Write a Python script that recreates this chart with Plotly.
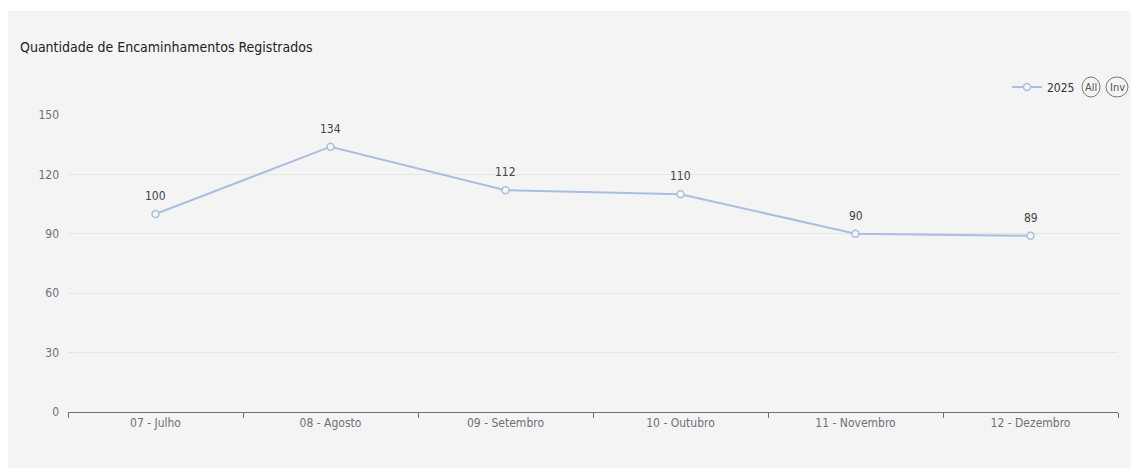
import plotly.graph_objects as go

categories = ["07 - Julho", "08 - Agosto", "09 - Setembro", "10 - Outubro", "11 - Novembro", "12 - Dezembro"]
values_2025 = [100, 134, 112, 110, 90, 89]
y_ticks = [0, 30, 60, 90, 120, 150]
series_name = "2025"
title_text = "Quantidade de Encaminhamentos Registrados"

FONT = "Liberation Sans Narrow, DejaVu Sans Condensed, Roboto, sans-serif"
LINE_COLOR = "#aabde2"
AXIS_COLOR = "#6e7079"

W, H = 1131, 468
L, R, T, B = 68, 13, 115, 56
pw = W - L - R
ph = H - T - B

def px_x(x):
    return (x - L) / pw

def px_y(y):
    return (H - B - y) / ph

fig = go.Figure()
fig.add_trace(go.Scatter(
    x=categories, y=values_2025, name=series_name,
    mode="lines+markers",
    line=dict(color=LINE_COLOR, width=2),
    marker=dict(symbol="circle", size=7, color="#f7f7f7", line=dict(color=LINE_COLOR, width=1.5)),
    cliponaxis=False,
))

annotations = []
for c, v in zip(categories, values_2025):
    annotations.append(dict(x=c, y=v, xref="x", yref="y", text=str(v), showarrow=False,
                            xanchor="center", yanchor="middle", yshift=18,
                            font=dict(family=FONT, size=12, color="#444")))

shapes = [dict(type="rect", xref="paper", yref="paper", layer="below",
               x0=px_x(8), x1=px_x(1131), y0=px_y(468), y1=px_y(11),
               fillcolor="#f4f4f4", line=dict(width=0))]

for label, cx, half_w in [("All", 1091, 9), ("Inv", 1117, 11)]:
    shapes.append(dict(type="circle", xref="paper", yref="paper",
                       xsizemode="pixel", ysizemode="pixel",
                       xanchor=px_x(cx), yanchor=px_y(87),
                       x0=-half_w, x1=half_w, y0=-10, y1=10,
                       line=dict(color="#777", width=1), fillcolor="rgba(0,0,0,0)"))
    annotations.append(dict(text=label, xref="paper", yref="paper", x=px_x(cx), y=px_y(87),
                            showarrow=False, xanchor="center", yanchor="middle",
                            font=dict(family=FONT, size=11, color="#555")))

fig.update_layout(
    width=W, height=H,
    margin=dict(l=L, r=R, t=T, b=B),
    paper_bgcolor="white",
    plot_bgcolor="rgba(0,0,0,0)",
    font=dict(family=FONT, size=12, color=AXIS_COLOR),
    title=dict(text=title_text, x=20 / W, xanchor="left", y=1 - 47 / H, yanchor="middle",
               font=dict(family=FONT, size=14, color="#222")),
    showlegend=True,
    legend=dict(x=px_x(1080), xanchor="right", y=px_y(87), yanchor="middle",
                orientation="h", bgcolor="rgba(0,0,0,0)",
                font=dict(family=FONT, size=12, color="#333"),
                itemwidth=30, tracegroupgap=0),
    xaxis=dict(type="category", range=[-0.5, 5.5], showline=True, linecolor=AXIS_COLOR, linewidth=1,
               ticks="outside", tickson="boundaries", ticklen=5, tickcolor=AXIS_COLOR,
               showgrid=False, tickfont=dict(family=FONT, size=12, color=AXIS_COLOR)),
    yaxis=dict(range=[0, 150], tickvals=y_ticks, showgrid=True, gridcolor="#e5e5e5", gridwidth=1,
               zeroline=False, showline=False, ticks="", ticklabelstandoff=8,
               tickfont=dict(family=FONT, size=12, color=AXIS_COLOR)),
    shapes=shapes,
    annotations=annotations,
)

fig.write_html("out.html")
